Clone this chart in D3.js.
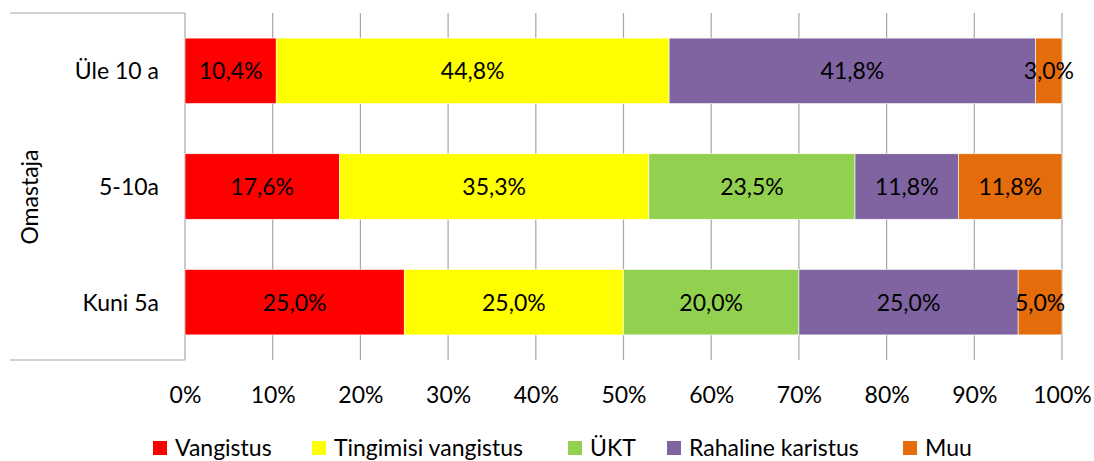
<!DOCTYPE html>
<html>
<head>
<meta charset="utf-8">
<script src="https://cdn.jsdelivr.net/npm/d3@7"></script>
<style>
  html, body { margin: 0; padding: 0; background: #fff; }
  svg { display: block; font-family: Lato, "Open Sans", sans-serif; }
</style>
</head>
<body>
<svg id="chart" width="1094" height="461"></svg>
<script>
// Sentence groups by time since the previous offence (percent shares per row)
const categories = ["Üle 10 a", "5-10a", "Kuni 5a"];
const seriesNames = ["Vangistus", "Tingimisi vangistus", "ÜKT", "Rahaline karistus", "Muu"];
const seriesColors = ["#FF0000", "#FFFF00", "#92D050", "#8064A2", "#E46C0A"];
const vangistus = [10.4, 17.6, 25.0];
const tingimisi = [44.8, 35.3, 25.0];
const ukt = [0, 23.5, 20.0];
const rahaline = [41.8, 11.8, 25.0];
const muu = [3.0, 11.8, 5.0];
const xTicks = [0, 10, 20, 30, 40, 50, 60, 70, 80, 90, 100];
const axisTitle = "Omastaja";

const seriesValues = [vangistus, tingimisi, ukt, rahaline, muu];
const rows = categories.map((c, i) => {
  const r = { category: c };
  seriesNames.forEach((s, j) => { r[s] = seriesValues[j][i]; });
  return r;
});
const stacked = d3.stack().keys(seriesNames)(rows);

const svg = d3.select("#chart");
const plotLeft = 185, plotRight = 1062, plotTop = 13, plotBottom = 360;
const fontSize = 23;

const x = d3.scaleLinear().domain([0, 100]).range([plotLeft, plotRight]);
const y = d3.scaleBand().domain(categories).range([plotTop, plotBottom])
  .paddingInner(0.434).paddingOuter(0.217);
const color = d3.scaleOrdinal().domain(seriesNames).range(seriesColors);
const fmt = v => d3.format(".1f")(v).replace(".", ",") + "%";

// vertical gridlines
svg.append("g").selectAll("line").data(xTicks.slice(1)).join("line")
  .attr("x1", d => x(d)).attr("x2", d => x(d))
  .attr("y1", plotTop).attr("y2", plotBottom)
  .attr("stroke", "#a6a6a6").attr("stroke-width", 1.2);

// category axis frame (multi-level box)
const frame = svg.append("g").attr("stroke", "#a6a6a6").attr("stroke-width", 1.2).attr("fill", "none");
frame.append("line").attr("x1", 10).attr("x2", plotLeft).attr("y1", plotTop).attr("y2", plotTop);
frame.append("line").attr("x1", 10).attr("x2", plotLeft).attr("y1", plotBottom).attr("y2", plotBottom);
frame.append("line").attr("x1", plotLeft).attr("x2", plotLeft).attr("y1", plotTop).attr("y2", plotBottom);

// stacked bars
const layers = svg.append("g").selectAll("g").data(stacked).join("g")
  .attr("fill", d => color(d.key));
layers.selectAll("rect").data(d => d.filter(p => p[1] - p[0] > 0)).join("rect")
  .attr("x", d => x(d[0]))
  .attr("y", d => y(d.data.category))
  .attr("width", d => x(d[1]) - x(d[0]))
  .attr("height", y.bandwidth())
  .attr("stroke", "#ffffff").attr("stroke-width", 0.6);

// value labels
const labels = svg.append("g").attr("font-size", fontSize).attr("fill", "#000").attr("text-anchor", "middle");
stacked.forEach(layer => {
  layer.filter(p => p[1] - p[0] > 0).forEach(p => {
    labels.append("text")
      .attr("x", x((p[0] + p[1]) / 2))
      .attr("y", y(p.data.category) + y.bandwidth() / 2 + 8.5)
      .text(fmt(p[1] - p[0]));
  });
});

// category labels
svg.append("g").attr("font-size", fontSize).attr("text-anchor", "end")
  .selectAll("text").data(categories).join("text")
  .attr("x", 159)
  .attr("y", d => y(d) + y.bandwidth() / 2 + 8.5)
  .text(d => d);

// axis title
svg.append("text")
  .attr("transform", "translate(38,197) rotate(-90)")
  .attr("text-anchor", "middle").attr("font-size", fontSize)
  .text(axisTitle);

// x axis tick labels
const xAxis = d3.axisBottom(x).tickValues(xTicks).tickSize(0).tickPadding(0)
  .tickFormat(d => d + "%");
const gx = svg.append("g").attr("transform", `translate(0,${plotBottom})`).call(xAxis);
gx.select(".domain").remove();
gx.selectAll("text").attr("font-size", fontSize).attr("font-family", "Lato, 'Open Sans', sans-serif")
  .attr("fill", "#000").attr("dy", null).attr("y", 43);

// legend
const legendX = [153, 312, 568, 667, 903];
const legend = svg.append("g").selectAll("g").data(seriesNames).join("g")
  .attr("transform", (d, i) => `translate(${legendX[i]},441)`);
legend.append("rect").attr("width", 14).attr("height", 14).attr("fill", d => color(d));
legend.append("text").attr("x", 22).attr("y", 15).attr("font-size", fontSize).text(d => d);
</script>
</body>
</html>
